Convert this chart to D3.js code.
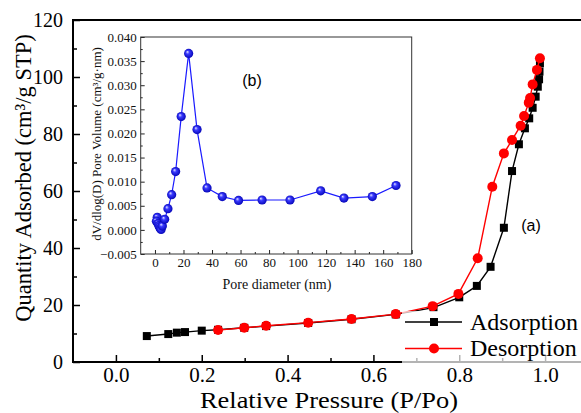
<!DOCTYPE html>
<html>
<head>
<meta charset="utf-8">
<script src="https://cdn.jsdelivr.net/npm/d3@7"></script>
<style>
  body { margin: 0; background: #fff; }
  svg { display: block; }
  text { font-family: "Liberation Serif", "Times New Roman", serif; }
</style>
</head>
<body>
<svg id="chart" width="581" height="413"></svg>
<script>
// N2 sorption isotherm: [relative pressure P/Po, quantity adsorbed cm3/g STP]
const adsorption = [
  [0.072, 9.1], [0.122, 9.8], [0.142, 10.3], [0.161, 10.5], [0.200, 11.0],
  [0.238, 11.3], [0.299, 12.0], [0.350, 12.6], [0.448, 13.7], [0.549, 15.0],
  [0.652, 16.7], [0.740, 19.1], [0.800, 22.7], [0.841, 26.7], [0.873, 33.4],
  [0.904, 47.1], [0.923, 67.0], [0.939, 76.4], [0.953, 82.0], [0.963, 85.5],
  [0.971, 89.2], [0.978, 93.1], [0.983, 96.6], [0.986, 99.2], [0.987, 101.9],
  [0.988, 104.8]
];
const desorption = [
  [0.988, 106.6], [0.981, 102.5], [0.971, 97.4], [0.965, 92.6], [0.962, 91.0],
  [0.951, 86.3], [0.943, 82.9], [0.923, 77.9], [0.904, 73.2], [0.877, 61.5],
  [0.843, 36.4], [0.798, 23.9], [0.738, 19.6], [0.652, 16.8], [0.549, 15.1],
  [0.448, 13.8], [0.350, 12.7], [0.299, 12.0], [0.238, 11.2]
];

// BJH pore size distribution
const poreDiameter = [1.6, 1.0, 2.1, 2.7, 3.2, 3.8, 4.3, 5.2, 6.8, 9.1, 11.7, 14.5, 18.4, 23.6, 29.5, 36.5, 47.2, 58.6, 75.1, 94.7, 116.2, 132.5, 152.4, 169.0];
const poreVolume   = [0.0026, 0.0018, 0.0013, 0.0009, 0.0006, 0.0003, 0.0001, 0.0008, 0.0022, 0.0044, 0.0073, 0.0121, 0.0235, 0.0366, 0.0208, 0.0087, 0.0069, 0.0061, 0.0062, 0.0062, 0.0081, 0.0066, 0.0069, 0.0092];

// Tick values
const mainXTicks = [0.0, 0.2, 0.4, 0.6, 0.8, 1.0];
const mainXMinor = [0.1, 0.3, 0.5, 0.7, 0.9];
const mainYTicks = [0, 20, 40, 60, 80, 100, 120];
const mainYMinor = [10, 30, 50, 70, 90, 110];
const insetXTicks = [0, 20, 40, 60, 80, 100, 120, 140, 160, 180];
const insetXMinor = [10, 30, 50, 70, 90, 110, 130, 150, 170];
const insetYTicks = [-0.005, 0.000, 0.005, 0.010, 0.015, 0.020, 0.025, 0.030, 0.035, 0.040];
const insetYMinor = [-0.0025, 0.0025, 0.0075, 0.0125, 0.0175, 0.0225, 0.0275, 0.0325, 0.0375];

const seriesNames = ["Adsorption", "Desorption"];

const svg = d3.select("#chart");

// ---------- main isotherm ----------
const x = d3.scaleLinear().domain([-0.1, 1.1]).range([73, 588]);
const y = d3.scaleLinear().domain([0, 120]).range([362, 20]);

const axisStyle = g => {
  g.select(".domain").remove();
  g.selectAll(".tick line").attr("stroke", "#000").attr("stroke-width", 1.5);
};

svg.append("g").attr("transform", `translate(0,${y(0)})`)
  .call(d3.axisBottom(x).tickValues(mainXTicks).tickSize(-7).tickPadding(5).tickFormat(d3.format(".1f")))
  .call(axisStyle)
  .call(g => g.selectAll("text").attr("font-size", 21).attr("fill", "#000")
    .style("font-family", "'Liberation Serif', serif"));
svg.append("g").attr("transform", `translate(0,${y(0)})`)
  .call(d3.axisBottom(x).tickValues(mainXMinor).tickSize(-4).tickFormat(""))
  .call(axisStyle);

svg.append("g").attr("transform", `translate(${x(-0.1)},0)`)
  .call(d3.axisLeft(y).tickValues(mainYTicks).tickSize(-7).tickPadding(10))
  .call(axisStyle)
  .call(g => g.selectAll("text").attr("font-size", 20).attr("fill", "#000")
    .style("font-family", "'Liberation Serif', serif"));
svg.append("g").attr("transform", `translate(${x(-0.1)},0)`)
  .call(d3.axisLeft(y).tickValues(mainYMinor).tickSize(-4).tickFormat(""))
  .call(axisStyle);

// frame
svg.append("path")
  .attr("d", `M${x(1.1)},${y(120)}H${x(-0.1)}V${y(0)}H${x(1.1)}`)
  .attr("fill", "none").attr("stroke", "#000").attr("stroke-width", 2);

// axis titles
svg.append("text")
  .attr("x", 329).attr("y", 408).attr("text-anchor", "middle")
  .attr("font-size", 23).attr("textLength", 258).attr("lengthAdjust", "spacingAndGlyphs")
  .text("Relative Pressure (P/Po)");
svg.append("text")
  .attr("transform", "translate(31,178) rotate(-90)")
  .attr("text-anchor", "middle").attr("font-size", 22.5)
  .text("Quantity Adsorbed (cm³/g STP)");

const line = d3.line().x(d => x(d[0])).y(d => y(d[1]));

// adsorption branch
svg.append("path").datum(adsorption)
  .attr("d", line).attr("fill", "none").attr("stroke", "#000").attr("stroke-width", 1.4);
svg.append("g").selectAll("rect").data(adsorption).join("rect")
  .attr("x", d => x(d[0]) - 4).attr("y", d => y(d[1]) - 4)
  .attr("width", 8).attr("height", 8).attr("fill", "#000");

// desorption branch
svg.append("path").datum(desorption)
  .attr("d", line).attr("fill", "none").attr("stroke", "#f00").attr("stroke-width", 1.4);
svg.append("g").selectAll("circle").data(desorption).join("circle")
  .attr("cx", d => x(d[0])).attr("cy", d => y(d[1])).attr("r", 5).attr("fill", "#f00");

svg.append("text")
  .attr("x", 531).attr("y", 231).attr("text-anchor", "middle")
  .attr("font-size", 16).style("font-family", "'Liberation Sans', Arial, sans-serif")
  .text("(a)");

// legend
svg.append("rect").attr("x", 402).attr("y", 311).attr("width", 190).attr("height", 55)
  .attr("fill", "#fff").attr("fill-opacity", 0.7);
const legend = svg.append("g");
seriesNames.forEach((name, i) => {
  const ly = 322 + i * 26.5;
  const color = i === 0 ? "#000" : "#f00";
  legend.append("line").attr("x1", 405).attr("x2", 462).attr("y1", ly).attr("y2", ly)
    .attr("stroke", color).attr("stroke-width", 1.5);
  if (i === 0) {
    legend.append("rect").attr("x", 430).attr("y", ly - 4).attr("width", 8).attr("height", 8).attr("fill", color);
  } else {
    legend.append("circle").attr("cx", 434).attr("cy", ly).attr("r", 5).attr("fill", color);
  }
  legend.append("text").attr("x", 470).attr("y", ly + 7.5).attr("font-size", 24).text(name);
});

// ---------- inset: pore size distribution ----------
const ix = d3.scaleLinear().domain([-10, 180]).range([140.7, 411.7]);
const iy = d3.scaleLinear().domain([-0.005, 0.040]).range([254, 37]);

const insetStyle = g => {
  g.select(".domain").remove();
  g.selectAll(".tick line").attr("stroke", "#222").attr("stroke-width", 1);
};

svg.append("g").attr("transform", `translate(0,${iy(-0.005)})`)
  .call(d3.axisBottom(ix).tickValues(insetXTicks).tickSize(-4).tickPadding(4))
  .call(insetStyle)
  .call(g => g.selectAll("text").attr("font-size", 13).attr("fill", "#111")
    .style("font-family", "'Liberation Serif', serif"));
svg.append("g").attr("transform", `translate(0,${iy(-0.005)})`)
  .call(d3.axisBottom(ix).tickValues(insetXMinor).tickSize(-2).tickFormat(""))
  .call(insetStyle);

svg.append("g").attr("transform", `translate(${ix(-10)},0)`)
  .call(d3.axisLeft(iy).tickValues(insetYTicks).tickSize(-4).tickPadding(4).tickFormat(d3.format(".3f")))
  .call(insetStyle)
  .call(g => g.selectAll("text").attr("font-size", 13).attr("fill", "#111")
    .style("font-family", "'Liberation Serif', serif"));
svg.append("g").attr("transform", `translate(${ix(-10)},0)`)
  .call(d3.axisLeft(iy).tickValues(insetYMinor).tickSize(-2).tickFormat(""))
  .call(insetStyle);

svg.append("rect")
  .attr("x", ix(-10)).attr("y", iy(0.040))
  .attr("width", ix(180) - ix(-10)).attr("height", iy(-0.005) - iy(0.040))
  .attr("fill", "none").attr("stroke", "#333").attr("stroke-width", 1);

svg.append("text")
  .attr("x", 277).attr("y", 289).attr("text-anchor", "middle")
  .attr("font-size", 14).attr("fill", "#111").text("Pore diameter (nm)");
svg.append("text")
  .attr("transform", "translate(101,144) rotate(-90)")
  .attr("text-anchor", "middle").attr("font-size", 13).attr("fill", "#111")
  .text("dV/dlog(D) Pore Volume (cm³/g·nm)");

svg.append("text")
  .attr("x", 252).attr("y", 86).attr("text-anchor", "middle")
  .attr("font-size", 16).style("font-family", "'Liberation Sans', Arial, sans-serif")
  .text("(b)");

// shaded sphere markers
const defs = svg.append("defs");
const grad = defs.append("radialGradient").attr("id", "ball")
  .attr("cx", "50%").attr("cy", "50%").attr("r", "55%")
  .attr("fx", "35%").attr("fy", "32%");
grad.append("stop").attr("offset", "0%").attr("stop-color", "#e8e8ff");
grad.append("stop").attr("offset", "35%").attr("stop-color", "#3a3aff");
grad.append("stop").attr("offset", "100%").attr("stop-color", "#0000b0");

const psd = poreDiameter.map((d, i) => [d, poreVolume[i]]);
svg.append("path").datum(psd)
  .attr("d", d3.line().x(d => ix(d[0])).y(d => iy(d[1])))
  .attr("fill", "none").attr("stroke", "#1a1aff").attr("stroke-width", 1.2);
svg.append("g").selectAll("circle").data(psd).join("circle")
  .attr("cx", d => ix(d[0])).attr("cy", d => iy(d[1])).attr("r", 4.6)
  .attr("fill", "url(#ball)");
</script>
</body>
</html>
